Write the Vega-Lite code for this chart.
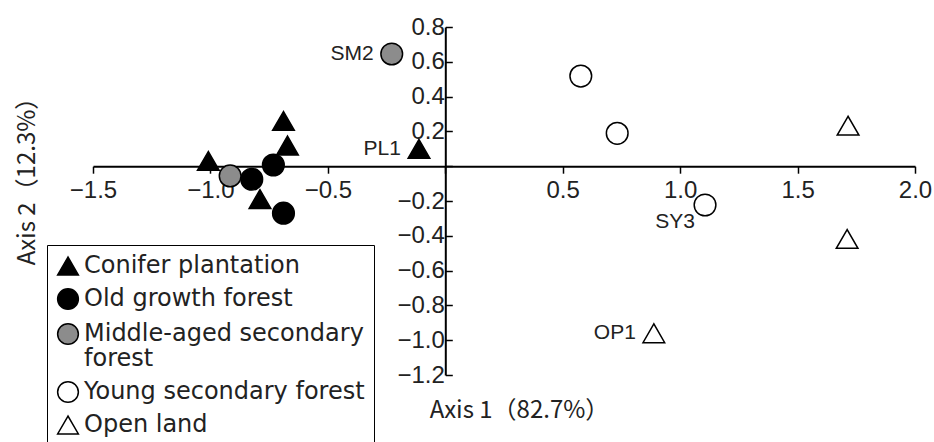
{
  "$schema": "https://vega.github.io/schema/vega-lite/v6.json",
  "width": 822,
  "height": 348,
  "autosize": {"type": "none"},
  "padding": {"left": 93, "top": 27, "right": 19, "bottom": 67},
  "background": "white",
  "config": {"view": {"stroke": null}, "axis": {"grid": false}, "style": {"guide-label": {"lineHeight": 25}}},
  "data": {
    "values": [
      {"x": -0.689, "y": 0.26, "type": "Conifer plantation", "label": null},
      {"x": -0.672, "y": 0.119, "type": "Conifer plantation", "label": null},
      {"x": -1.009, "y": 0.03, "type": "Conifer plantation", "label": null},
      {"x": -0.789, "y": -0.189, "type": "Conifer plantation", "label": null},
      {"x": -0.112, "y": 0.10, "type": "Conifer plantation", "label": "PL1"},
      {"x": -0.824, "y": -0.075, "type": "Old growth forest", "label": null},
      {"x": -0.732, "y": 0.007, "type": "Old growth forest", "label": null},
      {"x": -0.689, "y": -0.27, "type": "Old growth forest", "label": null},
      {"x": -0.916, "y": -0.056, "type": "Middle-aged secondary forest", "label": null},
      {"x": -0.228, "y": 0.645, "type": "Middle-aged secondary forest", "label": "SM2"},
      {"x": 0.577, "y": 0.518, "type": "Young secondary forest", "label": null},
      {"x": 0.732, "y": 0.189, "type": "Young secondary forest", "label": null},
      {"x": 1.106, "y": -0.223, "type": "Young secondary forest", "label": "SY3"},
      {"x": 1.715, "y": 0.233, "type": "Open land", "label": null},
      {"x": 1.711, "y": -0.418, "type": "Open land", "label": null},
      {"x": 0.888, "y": -0.96, "type": "Open land", "label": "OP1"}
    ]
  },
  "encoding": {
    "x": {
      "field": "x", "type": "quantitative",
      "scale": {"domain": [-1.5, 2.0], "nice": false, "zero": false},
      "axis": {
        "values": [-1.5, -1, -0.5, 0, 0.5, 1, 1.5, 2],
        "offset": -208.8,
        "domainColor": "black", "domainWidth": 2,
        "tickColor": "black", "tickWidth": 1.5, "tickSize": 7,
        "labelPadding": 5, "labelFont": "Liberation Sans", "labelFontSize": 24, "labelColor": "#222",
        "labelFlush": false, "labelOverlap": false,
        "labelExpr": "datum.value == 0 ? '' : format(datum.value, '.1f')",
        "title": "Axis 1（82.7%）", "titleFont": "Noto Sans CJK JP", "titleFontSize": 24,
        "titleFontWeight": "normal", "titleColor": "#222",
        "titleX": 426, "titleY": 251, "titleAlign": "center", "titleBaseline": "alphabetic"
      }
    },
    "y": {
      "field": "y", "type": "quantitative",
      "scale": {"domain": [-1.2, 0.8], "nice": false, "zero": false},
      "axis": {
        "values": [-1.2, -1, -0.8, -0.6, -0.4, -0.2, 0, 0.2, 0.4, 0.6, 0.8],
        "offset": -352.3,
        "domainColor": "black", "domainWidth": 2,
        "tickColor": "black", "tickWidth": 1.5, "tickSize": -7,
        "labelPadding": 8, "labelFont": "Liberation Sans", "labelFontSize": 24, "labelColor": "#222",
        "labelFlush": false, "labelOverlap": false,
        "labelExpr": "datum.value == 0 ? '' : format(datum.value, '.1f')",
        "title": "Axis 2（12.3%）", "titleFont": "Noto Sans CJK JP", "titleFontSize": 24,
        "titleFontWeight": "normal", "titleColor": "#222",
        "titleX": -411, "titleY": 148, "titleAngle": 270, "titleAlign": "center", "titleBaseline": "alphabetic"
      }
    }
  },
  "layer": [
    {
      "mark": {"type": "point", "filled": true, "strokeWidth": 1.5, "opacity": 1, "size": 470},
      "encoding": {
        "shape": {
          "field": "type", "type": "nominal",
          "scale": {
            "domain": ["Conifer plantation", "Old growth forest", "Middle-aged secondary forest", "Young secondary forest", "Open land"],
            "range": ["triangle-up", "circle", "circle", "circle", "triangle-up"]
          },
          "legend": {
            "title": null, "orient": "none", "legendX": -46, "legendY": 218,
            "strokeColor": "black", "fillColor": "white", "padding": 9,
            "labelFont": "DejaVu Sans", "labelFontSize": 24, "labelColor": "#222", "labelLimit": 0,
            "symbolSize": 430, "symbolStrokeWidth": 1.5,
            "labelOffset": 4, "rowPadding": 7,
            "labelExpr": "datum.label == 'Middle-aged secondary forest' ? ['Middle-aged secondary', '\u00a0forest'] : datum.label"
          }
        },
        "fill": {
          "field": "type", "type": "nominal",
          "scale": {
            "domain": ["Conifer plantation", "Old growth forest", "Middle-aged secondary forest", "Young secondary forest", "Open land"],
            "range": ["black", "black", "#8c8c8c", "white", "white"]
          },
          "legend": {
            "title": null, "orient": "none", "legendX": -46, "legendY": 218,
            "strokeColor": "black", "fillColor": "white", "padding": 9,
            "labelFont": "DejaVu Sans", "labelFontSize": 24, "labelColor": "#222", "labelLimit": 0,
            "symbolSize": 430, "symbolStrokeWidth": 1.5,
            "labelOffset": 4, "rowPadding": 7,
            "labelExpr": "datum.label == 'Middle-aged secondary forest' ? ['Middle-aged secondary', '\u00a0forest'] : datum.label"
          }
        },
        "stroke": {
          "field": "type", "type": "nominal",
          "scale": {
            "domain": ["Conifer plantation", "Old growth forest", "Middle-aged secondary forest", "Young secondary forest", "Open land"],
            "range": ["black", "black", "black", "black", "black"]
          },
          "legend": {
            "title": null, "orient": "none", "legendX": -46, "legendY": 218,
            "strokeColor": "black", "fillColor": "white", "padding": 9,
            "labelFont": "DejaVu Sans", "labelFontSize": 24, "labelColor": "#222", "labelLimit": 0,
            "symbolSize": 430, "symbolStrokeWidth": 1.5,
            "labelOffset": 4, "rowPadding": 7,
            "labelExpr": "datum.label == 'Middle-aged secondary forest' ? ['Middle-aged secondary', '\u00a0forest'] : datum.label"
          }
        }
      }
    },
    {
      "transform": [{"filter": "datum.label != null && datum.label != 'SY3'"}],
      "mark": {"type": "text", "align": "right", "baseline": "middle", "dx": -18, "font": "Liberation Sans", "fontSize": 21, "color": "#222"},
      "encoding": {"text": {"field": "label"}}
    },
    {
      "transform": [{"filter": "datum.label == 'SY3'"}],
      "mark": {"type": "text", "align": "right", "baseline": "middle", "dx": -10, "dy": 17, "font": "Liberation Sans", "fontSize": 21, "color": "#222"},
      "encoding": {"text": {"field": "label"}}
    }
  ]
}
